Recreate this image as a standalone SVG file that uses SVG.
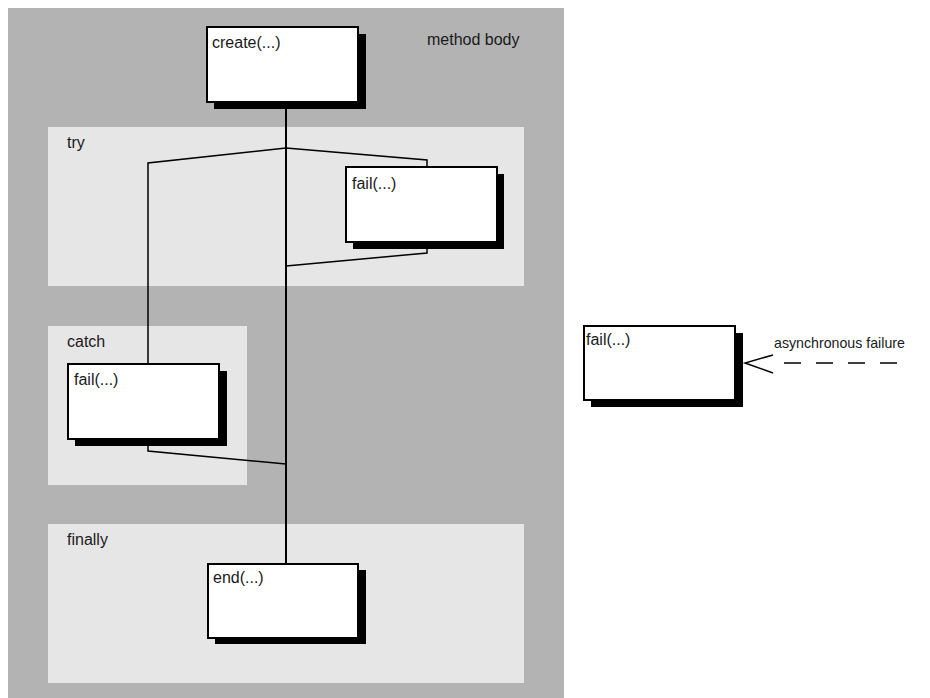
<svg xmlns="http://www.w3.org/2000/svg" width="930" height="698" viewBox="0 0 930 698">
<style>
  .bg { fill: #b3b3b3; }
  .region { fill: #e6e6e6; }
  .box { fill: #ffffff; stroke: #000000; stroke-width: 2; }
  .shadow { fill: #000000; }
  .t { font-family: "Liberation Sans", Arial, sans-serif; font-size: 16px; fill: #1a1a1a; }
  .small { font-size: 14.2px; }
  .conn { fill: none; stroke: #000000; stroke-width: 1.5; }
  .main { fill: none; stroke: #000000; stroke-width: 2; }
</style>
<rect class="bg" x="8" y="8" width="556" height="690"/>
<g id="region-try">
  <rect class="region" x="48" y="127" width="476" height="159"/>
  <text class="t" x="67" y="148">try</text>
</g>
<g id="region-catch">
  <rect class="region" x="48" y="326" width="199" height="159"/>
  <text class="t" x="67" y="347">catch</text>
</g>
<g id="region-finally">
  <rect class="region" x="48" y="524" width="476" height="159"/>
  <text class="t" x="67" y="545">finally</text>
</g>
<text class="t" x="427" y="45">method body</text>
<g id="connectors">
  <line class="main" x1="286" y1="103" x2="286" y2="564"/>
  <polyline class="conn" points="148,364 148,163 286,148 427,160 427,167"/>
  <polyline class="conn" points="427,242 427,253 286,266"/>
  <polyline class="conn" points="148,440 148,451 286,464"/>
  <line class="conn" x1="784" y1="363" x2="903" y2="363" stroke-dasharray="17,15"/>
  <polyline class="conn" points="773,355 745,363 773,373"/>
  <text class="t small" x="774" y="348">asynchronous failure</text>
</g>
<g id="node-create">
  <rect class="shadow" x="214" y="34" width="152" height="75"/>
  <rect class="box" x="207" y="27" width="151" height="75"/>
  <text class="t" x="212" y="48">create(...)</text>
</g>
<g id="node-fail-try">
  <rect class="shadow" x="353" y="174" width="151" height="75"/>
  <rect class="box" x="346" y="167" width="151" height="75"/>
  <text class="t" x="352" y="189">fail(...)</text>
</g>
<g id="node-fail-catch">
  <rect class="shadow" x="75" y="371" width="152" height="75"/>
  <rect class="box" x="68" y="364" width="151" height="75"/>
  <text class="t" x="74" y="385">fail(...)</text>
</g>
<g id="node-fail-async">
  <rect class="shadow" x="591" y="333" width="152" height="74"/>
  <rect class="box" x="584" y="326" width="151" height="74"/>
  <text class="t" x="586" y="345">fail(...)</text>
</g>
<g id="node-end">
  <rect class="shadow" x="215" y="570" width="151" height="74"/>
  <rect class="box" x="208" y="564" width="150" height="74"/>
  <text class="t" x="213" y="583">end(...)</text>
</g>
</svg>
